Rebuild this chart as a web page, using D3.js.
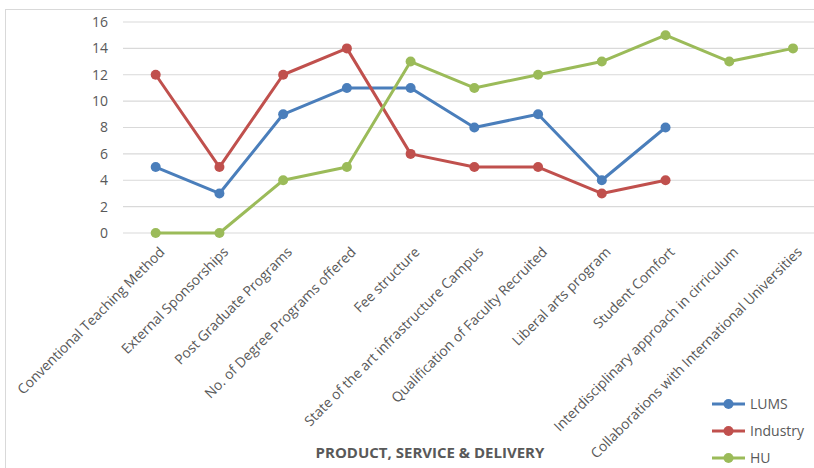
<!DOCTYPE html>
<html>
<head>
<meta charset="utf-8">
<script src="https://cdn.jsdelivr.net/npm/d3@7"></script>
<style>
body { margin: 0; background: #fff; }
svg { font-family: "Open Sans", sans-serif; }
</style>
</head>
<body>
<div id="chart"></div>
<script>
var categories = [
    "Conventional Teaching Method",
    "External Sponsorships",
    "Post Graduate Programs",
    "No. of Degree Programs offered",
    "Fee structure",
    "State of the art infrastructure Campus",
    "Qualification of Faculty  Recruited",
    "Liberal arts program",
    "Student Comfort",
    "Interdisciplinary approach in cirriculum",
    "Collaborations with International Universities"
];
var lums = [5, 3, 9, 11, 11, 8, 9, 4, 8, null, null];
var industry = [12, 5, 12, 14, 6, 5, 5, 3, 4, null, null];
var hu = [0, 0, 4, 5, 13, 11, 12, 13, 15, 13, 14];
var yTicks = [0, 2, 4, 6, 8, 10, 12, 14, 16];

var series = [
    {name: "LUMS", values: lums, color: "#4a7ebb"},
    {name: "Industry", values: industry, color: "#c0504d"},
    {name: "HU", values: hu, color: "#9bbb59"}
];

var width = 814, height = 468;

var svg = d3.select("#chart").append("svg")
    .attr("width", width)
    .attr("height", height);

// chart frame
svg.append("rect")
    .attr("x", 5.5).attr("y", 9.5)
    .attr("width", width - 4).attr("height", height)
    .attr("fill", "none")
    .attr("stroke", "#d9d9d9");

var x = d3.scalePoint()
    .domain(categories)
    .range([155.7, 793])

var y = d3.scaleLinear()
    .domain([0, 16])
    .range([233, 22]);

// gridlines
svg.append("g").selectAll("line")
    .data(yTicks)
    .enter().append("line")
    .attr("x1", 123).attr("x2", width)
    .attr("y1", function(d) { return y(d); })
    .attr("y2", function(d) { return y(d); })
    .attr("stroke", "#d9d9d9")
    .attr("stroke-width", 1.2);

svg.append("g").selectAll("text")
    .data(yTicks)
    .enter().append("text")
    .attr("x", 108)
    .attr("y", function(d) { return y(d); })
    .attr("dy", ".35em")
    .style("text-anchor", "end")
    .style("font-size", "14px")
    .style("fill", "#595959")
    .text(function(d) { return d; });

// category labels
svg.append("g").selectAll("text")
    .data(categories)
    .enter().append("text")
    .attr("transform", function(d) { return "translate(" + (x(d) + 3) + ",246) rotate(-45)"; })
    .attr("dy", ".7em")
    .style("text-anchor", "end")
    .style("font-size", "13.9px")
    .style("fill", "#595959")
    .text(function(d) { return d; });

var line = d3.line()
    .defined(function(d) { return d != null; })
    .x(function(d, i) { return x(categories[i]); })
    .y(function(d) { return y(d); });

series.forEach(function(s) {
    svg.append("path")
        .datum(s.values)
        .attr("fill", "none")
        .attr("stroke", s.color)
        .attr("stroke-width", 3)
        .attr("stroke-linejoin", "round")
        .attr("d", line);

    svg.append("g").selectAll("circle")
        .data(s.values.map(function(v, i) { return [i, v]; }).filter(function(p) { return p[1] != null; }))
        .enter().append("circle")
        .attr("cx", function(p) { return x(categories[p[0]]); })
        .attr("cy", function(p) { return y(p[1]); })
        .attr("r", 5)
        .attr("fill", s.color);
});

// axis title
svg.append("text")
    .attr("x", 430)
    .attr("y", 458)
    .style("text-anchor", "middle")
    .style("font-size", "15px")
    .style("font-weight", "bold")
    .style("fill", "#595959")
    .text("PRODUCT, SERVICE & DELIVERY");

// legend
var legend = svg.append("g").selectAll("g")
    .data(series)
    .enter().append("g")
    .attr("transform", function(d, i) { return "translate(712," + (404 + i * 27) + ")"; });

legend.append("line")
    .attr("x1", 0).attr("x2", 33)
    .attr("stroke", function(d) { return d.color; })
    .attr("stroke-width", 3);

legend.append("circle")
    .attr("cx", 16.5).attr("r", 5)
    .attr("fill", function(d) { return d.color; });

legend.append("text")
    .attr("x", 38)
    .attr("dy", ".35em")
    .style("font-size", "14px")
    .style("fill", "#595959")
    .text(function(d) { return d.name; });
</script>
</body>
</html>
